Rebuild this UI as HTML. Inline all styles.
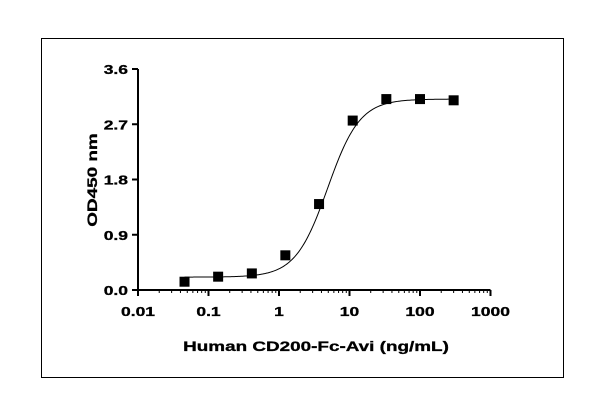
<!DOCTYPE html>
<html><head><meta charset="utf-8"><style>
html,body{margin:0;padding:0;background:#fff;}
svg{display:block;font-family:"Liberation Sans",Arial,sans-serif;font-weight:bold;}
</style></head><body>
<svg id="chart" width="601" height="412" viewBox="0 0 601 412">
<rect x="41.5" y="38.5" width="522" height="339" fill="#fff" stroke="#000" stroke-width="1"/>
<g id="axes"></g>
<g id="curve"></g>
<g id="points"></g>
<text transform="translate(316,351) scale(1.4,1)" font-size="13.5" text-anchor="middle" stroke="#000" stroke-width="0.3">Human CD200-Fc-Avi (ng/mL)</text>
<text transform="translate(97,180) rotate(-90) scale(1.4,1)" font-size="13.5" text-anchor="middle" stroke="#000" stroke-width="0.3">OD450 nm</text>
</svg>
<script>
const concentrations = [0.0457, 0.137, 0.412, 1.23, 3.70, 11.1, 33.3, 100, 300];
const odValues = [0.135, 0.217, 0.27, 0.565, 1.40, 2.76, 3.11, 3.11, 3.09];
const fitParams = [0.21, 3.11, 4.9, 1.9]; // bottom, top, EC50, hill
const xTickValues = [0.01, 0.1, 1, 10, 100, 1000];
const xTickLabels = ["0.01", "0.1", "1", "10", "100", "1000"];
const yTickValues = [0, 0.9, 1.8, 2.7, 3.6];
const yTickLabels = ["0.0", "0.9", "1.8", "2.7", "3.6"];

const NS = "http://www.w3.org/2000/svg";
const X0 = 138, DEC = 70.5, Y0 = 290, YTOP = 69, YMAX = 3.6;
const xs = v => X0 + (Math.log10(v) + 2) * DEC;
const ys = v => Y0 - v / YMAX * (Y0 - YTOP);
function mk(tag, attrs, parent) {
  const e = document.createElementNS(NS, tag);
  for (const k in attrs) e.setAttribute(k, attrs[k]);
  parent.appendChild(e); return e;
}
const axes = document.getElementById("axes");
const yAxis = mk("line", {x1: X0, y1: YTOP, x2: X0, y2: Y0 + 1, stroke: "#000", "stroke-width": 2}, axes);


const xAxis = mk("line", {x1: X0 - 1, y1: Y0, x2: xs(1000), y2: Y0, stroke: "#000", "stroke-width": 2}, axes);


yTickValues.forEach((v, i) => {
  const y = ys(v);
  const t = mk("line", {x1: X0 - 6, y1: y, x2: X0, y2: y, stroke: "#000", "stroke-width": 2}, axes);
  
  
  const l = mk("text", {transform: `translate(${X0 - 10},${y + 5}) scale(1.4,1)`, "font-size": 12.5, "text-anchor": "end", stroke: "#000", "stroke-width": 0.3}, axes);
  l.textContent = yTickLabels[i];
  
  
});
xTickValues.forEach((v, i) => {
  const x = xs(v);
  const t = mk("line", {x1: x, y1: Y0, x2: x, y2: Y0 + 6, stroke: "#000", "stroke-width": 2}, axes);
  
  
  const l = mk("text", {transform: `translate(${x},${Y0 + 26}) scale(1.4,1)`, "font-size": 12.5, "text-anchor": "middle", stroke: "#000", "stroke-width": 0.3}, axes);
  l.textContent = xTickLabels[i];
  
  
  if (i < xTickValues.length - 1) {
    for (let m = 2; m <= 9; m++) {
      const mx = xs(v * m);
      const mt = mk("line", {x1: mx, y1: Y0, x2: mx, y2: Y0 + 3, stroke: "#000", "stroke-width": 1}, axes);
      
      
    }
  }
});
const [b, tp, ec, h] = fitParams;
const f = c => b + (tp - b) / (1 + Math.pow(ec / c, h));
let d = "";
const lo = Math.log10(concentrations[0]), hi = Math.log10(concentrations[concentrations.length - 1]);
for (let k = 0; k <= 200; k++) {
  const c = Math.pow(10, lo + (hi - lo) * k / 200);
  d += (k ? "L" : "M") + xs(c).toFixed(2) + "," + ys(f(c)).toFixed(2);
}
const curve = mk("path", {d: d, fill: "none", stroke: "#000", "stroke-width": 1}, document.getElementById("curve"));


const pts = document.getElementById("points");
concentrations.forEach((c, i) => {
  const r = mk("rect", {x: xs(c) - 5, y: ys(odValues[i]) - 5, width: 10, height: 10, fill: "#000"}, pts);
  
  
});
</script>
</body></html>
